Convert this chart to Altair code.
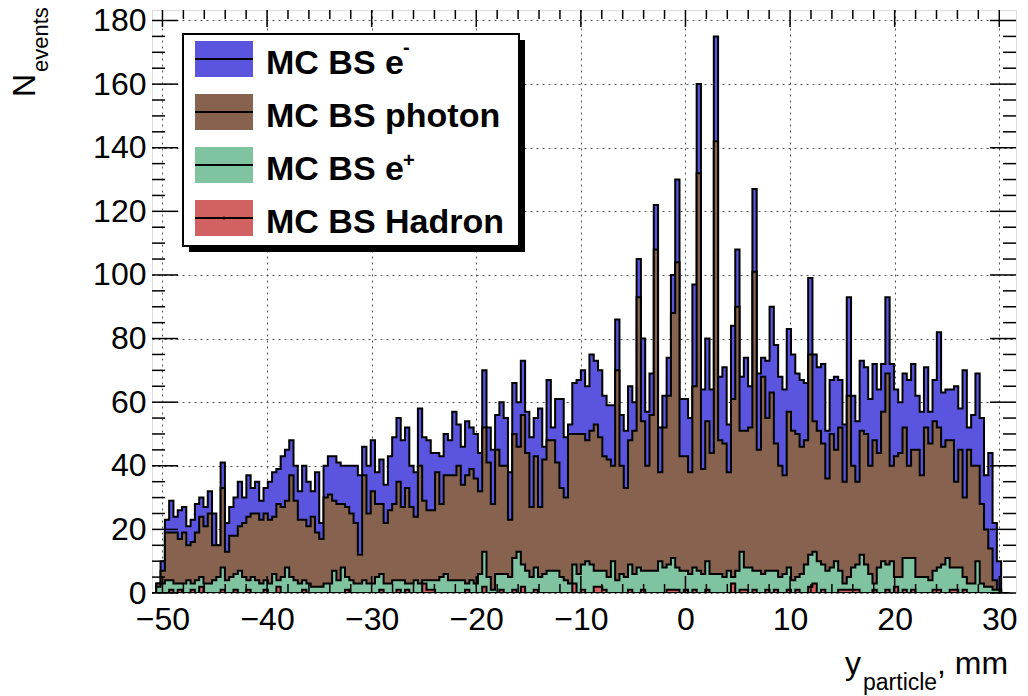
import altair as alt
import pandas as pd

# Binning of the y_particle histogram (mm)
X_START = -51.0
BIN_WIDTH = 0.41

# Stacked levels per bin, as THStack draws them (each level includes everything below it)
stack_all = [
    0, 3, 10, 23, 29, 24, 26, 27, 21, 23,
    28, 30, 27, 32, 25, 15, 41, 22, 27, 30,
    35, 30, 37, 33, 35, 29, 33, 35, 38, 39,
    43, 45, 48, 40, 32, 40, 35, 32, 38, 22,
    40, 43, 43, 41, 40, 40, 40, 40, 37, 46,
    40, 48, 38, 42, 34, 43, 49, 55, 48, 52,
    40, 38, 58, 49, 48, 44, 44, 43, 50, 48,
    57, 53, 46, 54, 52, 50, 44, 70, 52, 45,
    56, 60, 55, 38, 66, 60, 73, 57, 49, 55,
    58, 46, 67, 52, 61, 61, 49, 53, 66, 67,
    70, 65, 75, 73, 70, 62, 59, 59, 86, 56,
    51, 65, 60, 105, 80, 57, 69, 122, 52, 62,
    74, 100, 130, 61, 61, 55, 97, 160, 64, 80,
    64, 175, 68, 71, 53, 84, 108, 68, 74, 65,
    127, 69, 74, 73, 90, 78, 68, 64, 83, 75,
    69, 67, 66, 99, 75, 71, 72, 51, 67, 68,
    67, 53, 93, 62, 54, 73, 71, 61, 72, 64,
    72, 93, 72, 64, 60, 69, 67, 72, 62, 57,
    71, 57, 67, 82, 63, 64, 64, 65, 58, 70,
    52, 56, 69, 55, 37, 44, 22, 10, 0, 0,
]
stack_photon = [
    0, 3, 7, 19, 19, 19, 17, 19, 15, 16,
    19, 24, 21, 25, 15, 15, 33, 13, 18, 18,
    21, 22, 24, 25, 25, 23, 25, 23, 24, 28,
    27, 29, 37, 29, 23, 23, 21, 24, 19, 17,
    30, 31, 29, 28, 28, 27, 25, 22, 12, 37,
    25, 32, 28, 28, 22, 26, 28, 35, 27, 33,
    27, 24, 40, 29, 26, 26, 38, 28, 37, 37,
    37, 40, 34, 37, 39, 36, 32, 52, 41, 28,
    45, 40, 40, 23, 50, 46, 56, 44, 27, 43,
    27, 42, 48, 48, 41, 33, 30, 50, 50, 50,
    50, 48, 51, 53, 49, 43, 42, 40, 70, 40,
    33, 48, 51, 93, 54, 40, 56, 108, 38, 52,
    62, 88, 104, 43, 43, 38, 65, 132, 39, 54,
    44, 142, 48, 47, 38, 61, 90, 51, 51, 52,
    101, 45, 68, 55, 63, 47, 40, 37, 57, 51,
    50, 46, 48, 75, 54, 51, 47, 36, 50, 45,
    52, 35, 62, 40, 35, 51, 50, 40, 48, 44,
    57, 69, 40, 43, 44, 52, 40, 45, 45, 37,
    52, 47, 54, 52, 46, 48, 48, 35, 45, 30,
    45, 40, 40, 28, 20, 14, 4, 1, 0, 0,
]
stack_positron = [
    0, 2, 3, 4, 4, 3, 3, 3, 4, 3,
    4, 5, 3, 3, 4, 5, 8, 4, 5, 6,
    7, 5, 4, 5, 4, 3, 4, 3, 6, 4,
    5, 8, 5, 4, 3, 4, 3, 2, 2, 2,
    3, 3, 7, 4, 8, 5, 4, 3, 3, 4,
    3, 3, 5, 6, 3, 3, 4, 4, 4, 3,
    3, 4, 3, 4, 4, 4, 4, 5, 6, 4,
    4, 4, 4, 3, 4, 3, 6, 13, 5, 1,
    6, 6, 6, 5, 11, 13, 9, 7, 5, 8,
    5, 6, 7, 7, 7, 5, 4, 3, 9, 6,
    9, 10, 9, 7, 7, 7, 5, 10, 4, 6,
    5, 9, 6, 8, 7, 7, 7, 7, 10, 8,
    9, 11, 8, 7, 7, 6, 8, 7, 6, 10,
    6, 6, 6, 5, 7, 5, 7, 13, 8, 8,
    7, 7, 6, 7, 7, 7, 5, 6, 8, 4,
    5, 6, 9, 12, 13, 10, 9, 7, 8, 10,
    7, 3, 5, 8, 9, 12, 9, 6, 3, 8,
    10, 9, 10, 5, 5, 11, 11, 11, 5, 5,
    5, 4, 7, 8, 9, 11, 8, 8, 8, 5,
    3, 3, 10, 3, 2, 2, 1, 1, 0, 0,
]
stack_hadron = [
    0, 0, 0, 0, 1, 0, 1, 0, 0, 1,
    0, 2, 0, 0, 0, 0, 1, 0, 0, 1,
    0, 0, 1, 0, 0, 0, 1, 0, 0, 2,
    0, 0, 0, 0, 0, 1, 0, 0, 0, 0,
    0, 0, 0, 0, 0, 1, 0, 0, 0, 0,
    0, 0, 0, 1, 0, 0, 0, 1, 0, 1,
    0, 0, 0, 3, 1, 1, 0, 0, 0, 0,
    0, 0, 0, 1, 0, 0, 0, 2, 0, 0,
    0, 1, 0, 0, 1, 0, 2, 0, 0, 1,
    0, 0, 0, 0, 0, 0, 0, 0, 3, 0,
    1, 0, 0, 2, 2, 1, 0, 0, 0, 0,
    0, 1, 0, 0, 1, 0, 0, 0, 0, 0,
    1, 1, 1, 0, 1, 0, 1, 0, 0, 1,
    0, 0, 0, 0, 0, 3, 0, 1, 1, 0,
    1, 0, 0, 1, 0, 1, 0, 0, 1, 0,
    1, 0, 0, 2, 3, 0, 1, 0, 0, 0,
    1, 1, 1, 1, 1, 0, 0, 0, 1, 0,
    0, 1, 0, 2, 0, 1, 0, 1, 0, 0,
    0, 0, 1, 1, 0, 0, 1, 1, 0, 1,
    0, 0, 0, 0, 0, 0, 0, 0, 0, 0,
]

legend_labels = ["MC BS e", "MC BS photon", "MC BS e", "MC BS Hadron"]
legend_sups = ["-", "", "+", ""]
colors = ["#5a54de", "#86624f", "#80c3a1", "#d26262"]

x_major = [-50, -40, -30, -20, -10, 0, 10, 20, 30]
y_major = [0, 20, 40, 60, 80, 100, 120, 140, 160, 180]

W, H = 864, 583
X_DOMAIN = [-51.0, 31.6]
Y_DOMAIN = [0, 183.3]
FONT = "Liberation Sans"

x_scale = alt.Scale(domain=X_DOMAIN, nice=False, zero=False)
y_scale = alt.Scale(domain=Y_DOMAIN, nice=False, zero=False)

# One shared axis definition per channel, used by every layer so they merge cleanly
x_axis = alt.Axis(values=x_major, ticks=False, domain=False, grid=True,
                  gridColor="#555555", gridDash=[2, 4], gridWidth=1,
                  labelFont=FONT, labelFontSize=32, labelColor="black",
                  labelPadding=11, labelOverlap=False, labelFlush=False)
y_axis = alt.Axis(values=y_major, ticks=False, domain=False, grid=True,
                  gridColor="#555555", gridDash=[2, 4], gridWidth=1,
                  labelFont=FONT, labelFontSize=32, labelColor="black",
                  labelPadding=6, labelOverlap=False, labelFlush=False)


def xq():
    return alt.X("x:Q", scale=x_scale, axis=x_axis, title=None)


def yq():
    return alt.Y("n:Q", scale=y_scale, axis=y_axis, title=None)


def step_frame(levels):
    edges = [X_START + BIN_WIDTH * i for i in range(len(levels) + 1)]
    return pd.DataFrame({"x": edges, "n": list(levels) + [levels[-1]]})


one_row = pd.DataFrame({"k": [0]})

layers = []
for levels, col in zip([stack_all, stack_photon, stack_positron, stack_hadron], colors):
    layers.append(
        alt.Chart(step_frame(levels)).mark_area(
            interpolate="step-after", fill=col, opacity=1, stroke="black",
            strokeWidth=2, strokeJoin="miter", clip=True,
        ).encode(x=xq(), y=yq())
    )

# Inward ticks on all four sides of the frame
y_minor = [v for v in range(0, 185, 5) if v % 20]
x_minor = [v for v in range(-50, 32, 2) if v % 10]
tick_specs = [
    (y_major, "y", 0, 26), (y_minor, "y", 0, 13),
    (y_major, "y", W, W - 26), (y_minor, "y", W, W - 13),
    (x_major, "x", H, H - 17), (x_minor, "x", H, H - 9),
    (x_major, "x", 0, 17), (x_minor, "x", 0, 9),
]
for vals, ch, a, b in tick_specs:
    if ch == "y":
        layers.append(alt.Chart(pd.DataFrame({"n": vals})).mark_rule(
            color="black", strokeWidth=1.5).encode(y=yq(), x=alt.value(a), x2=alt.value(b)))
    else:
        layers.append(alt.Chart(pd.DataFrame({"x": vals})).mark_rule(
            color="black", strokeWidth=1.5).encode(x=xq(), y=alt.value(a), y2=alt.value(b)))

# Legend box with drop shadow
LX0, LY0, LX1, LY1 = 31, 24, 367, 236
layers.append(alt.Chart(one_row).mark_rect(fill="black").encode(
    x=alt.value(LX0 + 6), x2=alt.value(LX1 + 6), y=alt.value(LY0 + 6), y2=alt.value(LY1 + 6)))
layers.append(alt.Chart(one_row).mark_rect(fill="white", stroke="black", strokeWidth=2).encode(
    x=alt.value(LX0), x2=alt.value(LX1), y=alt.value(LY0), y2=alt.value(LY1)))

entry_y = [49, 102, 155, 208]
for label, sup, col, cy in zip(legend_labels, legend_sups, colors, entry_y):
    layers.append(alt.Chart(one_row).mark_rect(fill=col).encode(
        x=alt.value(43), x2=alt.value(101), y=alt.value(cy - 18), y2=alt.value(cy + 18)))
    layers.append(alt.Chart(one_row).mark_rule(color="black", strokeWidth=2).encode(
        x=alt.value(43), x2=alt.value(101), y=alt.value(cy)))
    layers.append(alt.Chart(one_row).mark_text(
        text=label, font=FONT, fontSize=34, fontWeight="bold", align="left",
        baseline="alphabetic", color="black").encode(x=alt.value(114), y=alt.value(cy + 15)))
    if sup:
        layers.append(alt.Chart(one_row).mark_text(
            text=sup, font=FONT, fontSize=20, fontWeight="bold", align="left",
            baseline="alphabetic", color="black").encode(
                x=alt.value(251), y=alt.value(cy - 5 if sup == "-" else cy + 2)))
layers.append(alt.Chart(one_row).mark_point(filled=True, color="black", size=10, opacity=1).encode(
    x=alt.value(72), y=alt.value(entry_y[3])))

# Axis titles with subscripts
layers.append(alt.Chart(one_row).mark_text(
    text="N", font=FONT, fontSize=32, angle=270, align="left", baseline="alphabetic",
    color="black").encode(x=alt.value(-117), y=alt.value(87)))
layers.append(alt.Chart(one_row).mark_text(
    text="events", font=FONT, fontSize=22, angle=270, align="left", baseline="alphabetic",
    color="black").encode(x=alt.value(-104), y=alt.value(62)))
layers.append(alt.Chart(one_row).mark_text(
    text="y", font=FONT, fontSize=32, align="left", baseline="alphabetic",
    color="black").encode(x=alt.value(693), y=alt.value(664)))
layers.append(alt.Chart(one_row).mark_text(
    text="particle", font=FONT, fontSize=23, align="left", baseline="alphabetic",
    color="black").encode(x=alt.value(711), y=alt.value(680)))
layers.append(alt.Chart(one_row).mark_text(
    text=", mm", font=FONT, fontSize=32, align="left", baseline="alphabetic",
    color="black").encode(x=alt.value(785), y=alt.value(664)))

chart = alt.layer(*layers).properties(
    width=W, height=H,
    autosize=alt.AutoSizeParams(type="none"),
    padding={"left": 152, "top": 10, "right": 12, "bottom": 103},
).configure_view(stroke="black", strokeWidth=2).configure(background="white")

chart.save("out.html", embed_options={"renderer": "svg", "actions": False})
